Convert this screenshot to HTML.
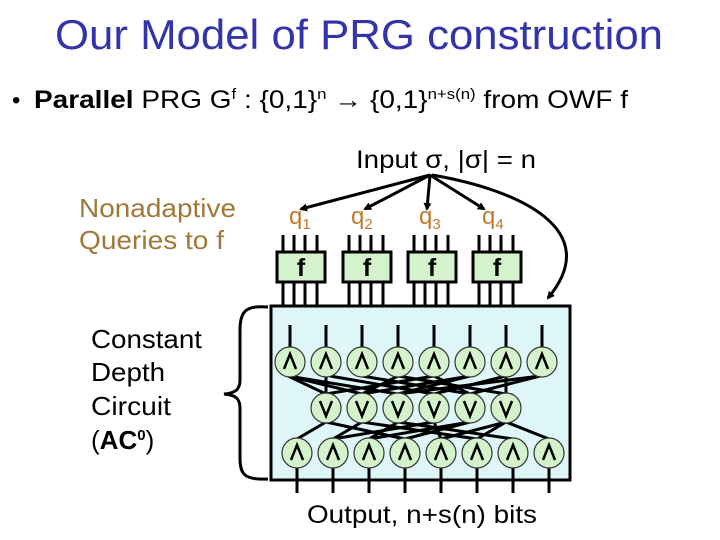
<!DOCTYPE html>
<html><head><meta charset="utf-8"><style>
html,body{margin:0;padding:0;background:#fff;}
svg{display:block;font-family:"Liberation Sans",sans-serif;}
</style></head><body>
<svg width="720" height="540" viewBox="0 0 720 540" xmlns="http://www.w3.org/2000/svg">
<defs><marker id="ah" markerWidth="8" markerHeight="8" refX="6" refY="4" orient="auto" markerUnits="userSpaceOnUse"><path d="M0,0 L8,4 L0,8 z" fill="#000"/></marker></defs>
<text x="359" y="49" font-size="42" fill="#3333aa" text-anchor="middle" textLength="608" lengthAdjust="spacingAndGlyphs">Our Model of PRG construction</text>
<text x="12" y="108" font-size="24" fill="#000">•</text>
<text x="34" y="108" font-size="25" fill="#000" textLength="594" lengthAdjust="spacingAndGlyphs"><tspan font-weight="bold">Parallel</tspan> PRG G<tspan font-size="15" dy="-9">f</tspan><tspan dy="9"> : {0,1}</tspan><tspan font-size="15" dy="-9">n</tspan><tspan dy="9"> → {0,1}</tspan><tspan font-size="15" dy="-9">n+s(n)</tspan><tspan dy="9"> from OWF f</tspan></text>
<text x="356" y="168" font-size="25" textLength="180" lengthAdjust="spacingAndGlyphs">Input σ, |σ| = n</text>
<g fill="#a07838" font-size="26"><text x="79" y="217" textLength="157" lengthAdjust="spacingAndGlyphs">Nonadaptive</text><text x="79" y="249" textLength="145" lengthAdjust="spacingAndGlyphs">Queries to f</text></g>
<g font-size="26"><text x="91" y="348" textLength="111" lengthAdjust="spacingAndGlyphs">Constant</text><text x="91" y="381" textLength="74" lengthAdjust="spacingAndGlyphs">Depth</text><text x="91" y="415" textLength="80" lengthAdjust="spacingAndGlyphs">Circuit</text><text x="91" y="449">(<tspan font-weight="bold">AC</tspan><tspan font-size="15" dy="-9" font-weight="bold">0</tspan><tspan dy="9">)</tspan></text></g>
<g fill="#c07a30" font-size="24"><text x="289" y="224">q<tspan font-size="15" dy="5">1</tspan></text><text x="351" y="224">q<tspan font-size="15" dy="5">2</tspan></text><text x="419" y="224">q<tspan font-size="15" dy="5">3</tspan></text><text x="482" y="224">q<tspan font-size="15" dy="5">4</tspan></text></g>
<g stroke="#000" stroke-width="3" fill="none" marker-end="url(#ah)"><line x1="430" y1="175" x2="301" y2="209"/><line x1="430" y1="175" x2="365" y2="209"/><line x1="430" y1="175" x2="427" y2="209"/><line x1="430" y1="175" x2="484" y2="209"/><path d="M432,175 C520,190 605,230 548,298"/></g>
<g stroke="#000" stroke-width="3">
<g id="fb"><line x1="283" y1="235" x2="283" y2="305"/><line x1="294" y1="235" x2="294" y2="305"/><line x1="305" y1="235" x2="305" y2="305"/><line x1="317" y1="235" x2="317" y2="305"/></g>
<use href="#fb" x="66"/><use href="#fb" x="131"/><use href="#fb" x="196"/>
</g>
<g fill="#d4f3cc" stroke="#000" stroke-width="3">
<rect x="277" y="252" width="48" height="30"/><rect x="343" y="252" width="48" height="30"/><rect x="408" y="252" width="48" height="30"/><rect x="473" y="252" width="48" height="30"/></g>
<g font-size="25" font-weight="bold" text-anchor="middle"><text x="301" y="276">f</text><text x="367" y="276">f</text><text x="432" y="276">f</text><text x="497" y="276">f</text></g>
<rect x="271" y="306" width="299" height="174" fill="#dff6f8" stroke="#000" stroke-width="3"/>
<path d="M268,307 C245,305 240,312 240,330 L240,380 C240,390 235,393 224,394 C235,395 240,398 240,408 L240,458 C240,475 245,480 268,479" fill="none" stroke="#000" stroke-width="3"/>
<g stroke="#000" stroke-width="3">
<line x1="290" y1="325" x2="290" y2="348"/><line x1="326" y1="325" x2="326" y2="348"/><line x1="362" y1="325" x2="362" y2="348"/><line x1="398" y1="325" x2="398" y2="348"/><line x1="434" y1="325" x2="434" y2="348"/><line x1="470" y1="325" x2="470" y2="348"/><line x1="506" y1="325" x2="506" y2="348"/><line x1="542" y1="325" x2="542" y2="348"/>
<line x1="297" y1="467" x2="297" y2="493"/><line x1="333" y1="467" x2="333" y2="493"/><line x1="369" y1="467" x2="369" y2="493"/><line x1="405" y1="467" x2="405" y2="493"/><line x1="441" y1="467" x2="441" y2="493"/><line x1="477" y1="467" x2="477" y2="493"/><line x1="513" y1="467" x2="513" y2="493"/><line x1="549" y1="467" x2="549" y2="493"/>
<line x1="288" y1="376" x2="326" y2="394"/><line x1="288" y1="376" x2="398" y2="394"/><line x1="288" y1="376" x2="362" y2="394"/>
<line x1="330" y1="376" x2="434" y2="394"/><line x1="326" y1="376" x2="326" y2="394"/><line x1="362" y1="376" x2="470" y2="394"/>
<line x1="398" y1="376" x2="362" y2="394"/><line x1="398" y1="376" x2="506" y2="394"/><line x1="434" y1="376" x2="326" y2="394"/>
<line x1="434" y1="376" x2="470" y2="394"/><line x1="470" y1="376" x2="398" y2="394"/><line x1="470" y1="376" x2="362" y2="394"/>
<line x1="506" y1="376" x2="434" y2="394"/><line x1="506" y1="376" x2="506" y2="394"/><line x1="540" y1="376" x2="470" y2="394"/><line x1="540" y1="376" x2="398" y2="394"/>
<line x1="326" y1="422" x2="297" y2="439"/><line x1="326" y1="422" x2="405" y2="439"/><line x1="362" y1="422" x2="477" y2="439"/><line x1="362" y1="422" x2="333" y2="439"/>
<line x1="398" y1="422" x2="369" y2="439"/><line x1="398" y1="422" x2="513" y2="439"/><line x1="434" y1="422" x2="333" y2="439"/><line x1="434" y1="422" x2="441" y2="439"/>
<line x1="470" y1="422" x2="369" y2="439"/><line x1="470" y1="422" x2="405" y2="439"/><line x1="506" y1="422" x2="441" y2="439"/><line x1="506" y1="422" x2="549" y2="439"/><line x1="506" y1="422" x2="477" y2="439"/>
</g>
<g fill="#d4f3cc" stroke="#333" stroke-width="1.2">
<circle cx="290" cy="362" r="15"/><circle cx="326" cy="362" r="15"/><circle cx="362" cy="362" r="15"/><circle cx="398" cy="362" r="15"/><circle cx="434" cy="362" r="15"/><circle cx="470" cy="362" r="15"/><circle cx="506" cy="362" r="15"/><circle cx="542" cy="362" r="15"/>
<circle cx="326" cy="408" r="15"/><circle cx="362" cy="408" r="15"/><circle cx="398" cy="408" r="15"/><circle cx="434" cy="408" r="15"/><circle cx="470" cy="408" r="15"/><circle cx="506" cy="408" r="15"/>
<circle cx="297" cy="453" r="15"/><circle cx="333" cy="453" r="15"/><circle cx="369" cy="453" r="15"/><circle cx="405" cy="453" r="15"/><circle cx="441" cy="453" r="15"/><circle cx="477" cy="453" r="15"/><circle cx="513" cy="453" r="15"/><circle cx="549" cy="453" r="15"/>
</g>
<g stroke="#000" stroke-width="2.5" fill="none">
<g id="and"><polyline points="284,369 290,354 296,369"/></g>
<use href="#and" x="36"/><use href="#and" x="72"/><use href="#and" x="108"/><use href="#and" x="144"/><use href="#and" x="180"/><use href="#and" x="216"/><use href="#and" x="252"/>
<g id="and2"><polyline points="291,460 297,445 303,460"/></g>
<use href="#and2" x="36"/><use href="#and2" x="72"/><use href="#and2" x="108"/><use href="#and2" x="144"/><use href="#and2" x="180"/><use href="#and2" x="216"/><use href="#and2" x="252"/>
<g id="or"><polyline points="320,401 326,416 332,401"/></g>
<use href="#or" x="36"/><use href="#or" x="72"/><use href="#or" x="108"/><use href="#or" x="144"/><use href="#or" x="180"/>
</g>
<text x="307" y="523" font-size="25" textLength="230" lengthAdjust="spacingAndGlyphs">Output, n+s(n) bits</text>
</svg>
</body></html>
